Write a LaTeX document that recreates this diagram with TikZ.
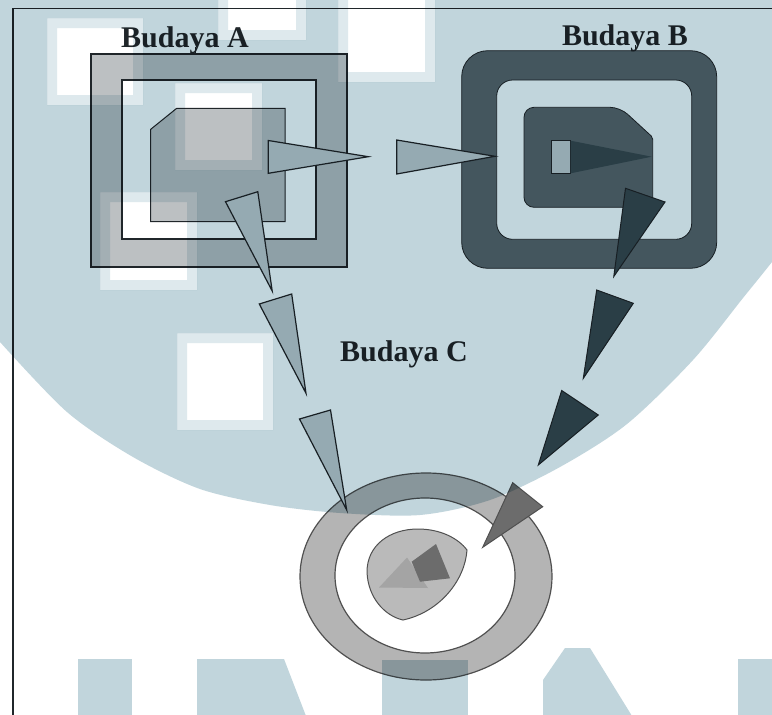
\documentclass[tikz,border=0pt]{standalone}
\usepackage{fontspec}
\setmainfont{Liberation Serif}
\definecolor{wm}{RGB}{193,213,220}
\definecolor{wmsoft}{RGB}{222,233,237}
\definecolor{ink}{RGB}{32,38,42}
\definecolor{afill}{RGB}{188,192,194}
\definecolor{awedge}{RGB}{198,204,207}
\definecolor{bfill}{RGB}{90,104,110}
\definecolor{bwedge}{RGB}{56,75,82}
\definecolor{ringfill}{RGB}{180,180,180}
\definecolor{ringedge}{RGB}{80,80,80}
\definecolor{leaffill}{RGB}{186,186,186}
\definecolor{leaflight}{RGB}{164,164,164}
\definecolor{leafdark}{RGB}{108,108,108}
\begin{document}
\begin{tikzpicture}[x=1pt,y=-1pt,
  lbl/.style={font=\fontsize{30}{34}\selectfont\bfseries, text=ink, inner sep=0pt, anchor=base},
  frameA/.style={fill=afill, draw=ink, line width=1.8pt, even odd rule},
  wedgeL/.style={fill=awedge, draw=ink, line width=1.2pt, line join=miter},
  wedgeD/.style={fill=bwedge, draw=ink, line width=1pt, line join=miter},
  ringstyle/.style={fill=ringfill, draw=ringedge, line width=1.2pt, even odd rule},
  tint/.style={fill=wm, blend mode=multiply},
  softtint/.style={fill=wmsoft, blend mode=multiply, even odd rule},
]
\path[use as bounding box] (0,0) rectangle (772,715);
\clip (0,0) rectangle (772,715);
\fill[white] (0,0) rectangle (772,715);

% outer frame (top and left edges)
\draw[ink, line width=1.8pt] (13,716) -- (13,8.5) -- (773,8.5);

% ---------------- Budaya A ----------------
\path[frameA] (90.7,54) rectangle (347.3,266.7) (122,80) rectangle (316,239);
\path[fill=afill, draw=ink, line width=1pt]
  (150.7,129.3) -- (176.7,108.3) -- (285,108.3) -- (285,221.7) -- (150.7,221.7) -- cycle;
\node[lbl] (labA) at (185,47) {Budaya A};
\coordinate (Atop) at (195,54);
\draw[ink, line width=1pt] (Atop |- labA.base) -- (Atop);

% ---------------- Budaya B ----------------
\path[fill=bfill, draw=ink, line width=0.8pt, even odd rule]
  [rounded corners=26pt] (461.7,50.7) rectangle (716.7,268.3)
  [rounded corners=16pt] (496.7,80) rectangle (691.7,239.3);
\path[fill=bfill, draw=ink, line width=0.8pt, rounded corners=10pt]
  (524,107.3) -- (620,107.3) [rounded corners=2pt] -- (652.7,137.3)
  [rounded corners=10pt] -- (652.7,207.3) -- (524,207.3) -- cycle;
\path[fill=awedge, draw=ink, line width=0.8pt] (551.7,140.7) rectangle (570.7,173.3);
\path[fill=bwedge] (570.7,140.7) -- (651.7,156.7) -- (570.7,173.3) -- cycle;
\node[lbl] (labB) at (625,45) {Budaya B};
\coordinate (Btop) at (635,51);
\draw[ink, line width=1pt] (Btop |- labB.base) -- (Btop);

% ---------------- Budaya C ----------------
\path[ringstyle]
  (426,576.5) ellipse [x radius=126pt, y radius=103.5pt]
  (425,575.5) ellipse [x radius=90pt, y radius=77.5pt];
\path[fill=leaffill, draw=ringedge, line width=1pt]
  (403,620) .. controls (385,616) and (368,598) .. (367,572)
  .. controls (367,545) and (390,529) .. (418,529)
  .. controls (440,529) and (458,538) .. (467,550)
  .. controls (465,580) and (440,612) .. cycle;
\fill[leaflight] (379,587.5) -- (407,557.5) -- (428,588) -- cycle;
\fill[leafdark] (411.7,561.7) -- (436,544) -- (450,578.3) -- (420,581.7) -- cycle;
\node[lbl] (labC) at (404,361) {Budaya C};

% ---------------- wedges A -> B and A -> C ----------------
\path[wedgeL] (268.3,140.5) -- (368.3,156.7) -- (268.3,173.3) -- cycle;
\path[wedgeL] (396.7,140) -- (495,156.3) -- (396.7,174) -- cycle;
\path[wedgeL] (225.5,201.7) -- (257.8,191.7) -- (272.2,291) -- cycle;
\path[wedgeL] (259.3,304) -- (291.7,294) -- (306,393.3) -- cycle;
\path[wedgeL] (299.5,419) -- (330.5,410) -- (346.7,510) -- cycle;

% ---------------- wedges B -> C ----------------
\path[wedgeD] (625.5,188.3) -- (665,202) -- (613.8,276.5) -- cycle;
\path[wedgeD] (596.7,290) -- (633.3,303.3) -- (583.3,378.3) -- cycle;
\path[wedgeD] (561.7,390.5) -- (598.3,415) -- (538.3,465) -- cycle;
\path[fill=leafdark, draw=ringedge, line width=1pt, line join=miter]
  (512.7,482.7) -- (542.7,506.7) -- (482.7,547.3) -- cycle;

% ---------------- tinted backdrop ----------------
\path[tint, even odd rule]
  (-10,-10) -- (-10,332)
  -- plot[smooth, tension=0.5] coordinates {(0,342) (67,412) (133,457) (200,489)
      (270,505) (340,513) (420,515) (490,500) (560,467) (627,424) (693,360)
      (743,298) (772,262) (790,238)}
  -- (790,-10) -- cycle
  (47,18) rectangle (143,105)
  (218,-10) rectangle (306,40)
  (338,-10) rectangle (435,82)
  (100,192) rectangle (197,290)
  (175,83) rectangle (262,170)
  (177,333) rectangle (273,430);
\path[softtint] (47,18) rectangle (143,105) (57,28) rectangle (133,95);
\path[softtint] (218,-10) rectangle (306,40) (228,-10) rectangle (296,30);
\path[softtint] (338,-10) rectangle (435,82) (348,-10) rectangle (425,72);
\path[softtint] (100,192) rectangle (197,290) (110,202) rectangle (187,280);
\path[softtint] (175,83) rectangle (262,170) (185,93) rectangle (252,160);
\path[softtint] (177,333) rectangle (273,430) (187,343) rectangle (263,420);

% blocks along the bottom edge
\path[tint] (78,659) rectangle (132,716);
\path[tint] (197,659) -- (284,659) -- (306,716) -- (197,716) -- cycle;
\path[tint] (382,660) rectangle (468,716);
\path[tint] (543,716) -- (543,680) -- (565,648) -- (590,648) -- (632,716) -- cycle;
\path[tint] (738,659) rectangle (773,716);
\end{tikzpicture}
\end{document}
